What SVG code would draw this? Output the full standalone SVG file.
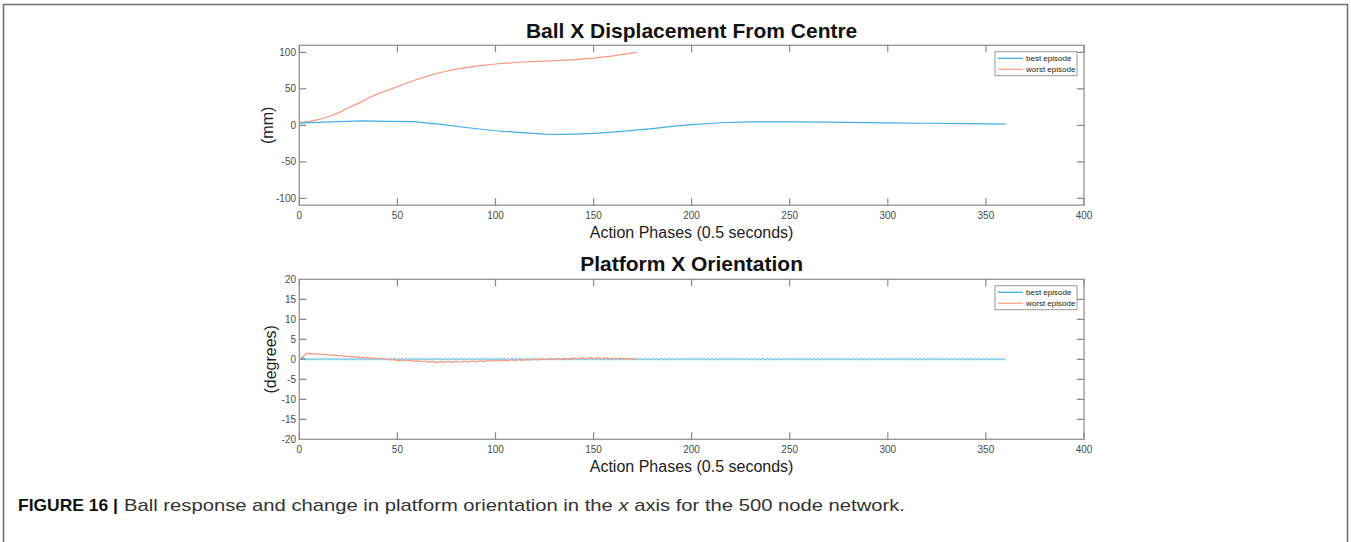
<svg xmlns="http://www.w3.org/2000/svg" width="1351" height="542" viewBox="0 0 1351 542">
  <style>
    text { font-family: "Liberation Sans", Arial, sans-serif; }
    .frame { fill: none; stroke: #6e6e6e; stroke-width: 1.5; }
    .axis { fill: none; stroke: #8a8a8a; stroke-width: 1.2; }
    .tick { fill: none; stroke: #8a8a8a; stroke-width: 1.2; }
    .tl { font-size: 10px; fill: #4a4a4a; }
    .tlx { text-anchor: middle; }
    .tly { text-anchor: end; }
    .title { font-size: 21px; font-weight: bold; fill: #111; text-anchor: middle; }
    .xl { font-size: 16px; fill: #222; text-anchor: middle; }
    .yl { font-size: 16px; fill: #222; text-anchor: middle; }
    .best { fill: none; stroke: #45ade2; stroke-width: 1.2; stroke-linejoin: round; vector-effect: non-scaling-stroke; }
    .worst { fill: none; stroke: #f89880; stroke-width: 1.2; stroke-linejoin: round; vector-effect: non-scaling-stroke; }
    .legbox { fill: #fff; stroke: #9a9a9a; stroke-width: 1; }
    .legtxt { font-size: 8px; fill: #222; }
    .cap { font-size: 17px; fill: #333; }
    .capb { font-size: 17px; font-weight: bold; fill: #111; }
  </style>
  <defs>
    <!-- small steady oscillation of the best-episode platform angle -->
    <pattern id="zz" patternUnits="userSpaceOnUse" x="303" y="357.2" width="3.9234" height="4">
      <path d="M-0.98,2.7 L0.98,1.3 L2.94,2.7 L4.9,1.3" fill="none" stroke="#45ade2" stroke-width="1"/>
    </pattern>
  </defs>

  <rect width="1351" height="542" fill="#fff"/>
  <path class="frame" d="M3.5,542 V4.5 H1347.5 V542"/>

  <!-- Upper plot: ball displacement -->
  <g id="plot-displacement">
    <text class="title" x="691.6" y="37.5">Ball X Displacement From Centre</text>
    <rect class="axis" x="299.3" y="45.3" width="784.7" height="159.9"/>
    <g class="tick">
      <path d="M299.3,45.3v7 M397.4,45.3v7 M495.5,45.3v7 M593.6,45.3v7 M691.6,45.3v7 M789.7,45.3v7 M887.8,45.3v7 M985.9,45.3v7 M1084,45.3v7"/>
      <path d="M299.3,205.2v-7 M397.4,205.2v-7 M495.5,205.2v-7 M593.6,205.2v-7 M691.6,205.2v-7 M789.7,205.2v-7 M887.8,205.2v-7 M985.9,205.2v-7 M1084,205.2v-7"/>
      <path d="M299.3,52.3h7 M299.3,88.8h7 M299.3,125.3h7 M299.3,161.8h7 M299.3,198.3h7"/>
      <path d="M1084,52.3h-7 M1084,88.8h-7 M1084,125.3h-7 M1084,161.8h-7 M1084,198.3h-7"/>
    </g>
    <g class="tl tly">
      <text x="296" y="55.8">100</text>
      <text x="296" y="92.3">50</text>
      <text x="296" y="128.8">0</text>
      <text x="296" y="165.3">-50</text>
      <text x="296" y="201.8">-100</text>
    </g>
    <g class="tl tlx">
      <text x="299.3" y="218.5">0</text>
      <text x="397.4" y="218.5">50</text>
      <text x="495.5" y="218.5">100</text>
      <text x="593.6" y="218.5">150</text>
      <text x="691.6" y="218.5">200</text>
      <text x="789.7" y="218.5">250</text>
      <text x="887.8" y="218.5">300</text>
      <text x="985.9" y="218.5">350</text>
      <text x="1084" y="218.5">400</text>
    </g>
    <text class="xl" x="691.6" y="238">Action Phases (0.5 seconds)</text>
    <text class="yl" transform="translate(273,125.3) rotate(-90)">(mm)</text>
    <g transform="translate(299.3,125.3) scale(1.9617,-0.73)">
      <polyline class="worst" points="0,4 5,5 10,8 15,12 20,17 25,24 30,30 35,37 40,43 45,48 50,53 55,58 60,63 65,67 70,71 75,74 80,77 85,79 90,81 100,84 110,86 125,88 140,90 150,92 160,95 172,100"/>
      <polyline class="best" points="0,3 10,4 20,5 32,6 45,5.5 58,5 70,2 85,-3 100,-7.5 115,-10.5 125,-12 136,-12.4 150,-11 161,-9 170,-7 180,-4.5 190,-1.5 200,1 215,3.5 230,4.6 250,4.8 270,4.3 298,3.2 320,2.8 340,2.2 360,1.7"/>
    </g>
    <g id="legend-displacement">
      <rect class="legbox" x="995" y="51.7" width="82" height="24"/>
      <line x1="998" y1="58.3" x2="1023" y2="58.3" stroke="#45ade2" stroke-width="1.3"/>
      <line x1="998" y1="69.3" x2="1023" y2="69.3" stroke="#f8a890" stroke-width="1.3"/>
      <text class="legtxt" x="1026" y="61">best episode</text>
      <text class="legtxt" x="1026" y="72">worst episode</text>
    </g>
  </g>

  <!-- Lower plot: platform orientation -->
  <g id="plot-orientation">
    <text class="title" x="691.6" y="270.5">Platform X Orientation</text>
    <rect class="axis" x="299.3" y="279.3" width="784.7" height="160"/>
    <g class="tick">
      <path d="M299.3,279.3v7 M397.4,279.3v7 M495.5,279.3v7 M593.6,279.3v7 M691.6,279.3v7 M789.7,279.3v7 M887.8,279.3v7 M985.9,279.3v7 M1084,279.3v7"/>
      <path d="M299.3,439.3v-7 M397.4,439.3v-7 M495.5,439.3v-7 M593.6,439.3v-7 M691.6,439.3v-7 M789.7,439.3v-7 M887.8,439.3v-7 M985.9,439.3v-7 M1084,439.3v-7"/>
      <path d="M299.3,299.3h7 M299.3,319.3h7 M299.3,339.3h7 M299.3,359.3h7 M299.3,379.3h7 M299.3,399.3h7 M299.3,419.3h7"/>
      <path d="M1084,299.3h-7 M1084,319.3h-7 M1084,339.3h-7 M1084,359.3h-7 M1084,379.3h-7 M1084,399.3h-7 M1084,419.3h-7"/>
    </g>
    <g class="tl tly">
      <text x="296" y="282.8">20</text>
      <text x="296" y="302.8">15</text>
      <text x="296" y="322.8">10</text>
      <text x="296" y="342.8">5</text>
      <text x="296" y="362.8">0</text>
      <text x="296" y="382.8">-5</text>
      <text x="296" y="402.8">-10</text>
      <text x="296" y="422.8">-15</text>
      <text x="296" y="442.8">-20</text>
    </g>
    <g class="tl tlx">
      <text x="299.3" y="452.8">0</text>
      <text x="397.4" y="452.8">50</text>
      <text x="495.5" y="452.8">100</text>
      <text x="593.6" y="452.8">150</text>
      <text x="691.6" y="452.8">200</text>
      <text x="789.7" y="452.8">250</text>
      <text x="887.8" y="452.8">300</text>
      <text x="985.9" y="452.8">350</text>
      <text x="1084" y="452.8">400</text>
    </g>
    <text class="xl" x="691.6" y="472">Action Phases (0.5 seconds)</text>
    <text class="yl" transform="translate(276,359.3) rotate(-90)">(degrees)</text>
    <rect x="303" y="357.2" width="702.5" height="4" fill="url(#zz)"/>
    <g transform="translate(299.3,359.3) scale(1.9617,-4)">
      <polyline class="best" points="0.5,0.1 1.5,0.4 2.5,0.3"/>
      <polyline class="worst" points="0,0 4,1.5 10,1.28 20,0.91 30,0.54 40,0.17 44,0.14 46,-0.17 48,-0.01 50,-0.32 52,-0.13 54,-0.42 56,-0.23 58,-0.52 60,-0.33 62,-0.62 64,-0.43 66,-0.72 68,-0.53 70,-0.82 72,-0.57 74,-0.79 76,-0.54 78,-0.77 80,-0.51 82,-0.74 84,-0.49 86,-0.70 88,-0.43 90,-0.64 92,-0.36 94,-0.57 96,-0.30 98,-0.50 100,-0.23 102,-0.44 104,-0.17 106,-0.39 108,-0.12 110,-0.33 112,-0.06 114,-0.27 116,-0.01 118,-0.22 120,0.05 122,-0.16 124,0.11 126,-0.11 128,0.16 130,-0.06 132,0.20 134,-0.01 136,0.25 138,0.04 140,0.30 142,0.08 144,0.35 146,0.13 148,0.40 150,0.18 152,0.40 154,0.14 156,0.37 158,0.11 160,0.33 162,0.07 164,0.29 166,0.03 168,0.26 170,0.00 172,0.10"/>
    </g>
    <g id="legend-orientation">
      <rect class="legbox" x="995" y="285.7" width="82" height="24"/>
      <line x1="998" y1="292.3" x2="1023" y2="292.3" stroke="#45ade2" stroke-width="1.3"/>
      <line x1="998" y1="303.3" x2="1023" y2="303.3" stroke="#f8a890" stroke-width="1.3"/>
      <text class="legtxt" x="1026" y="295">best episode</text>
      <text class="legtxt" x="1026" y="306">worst episode</text>
    </g>
  </g>

  <!-- Caption -->
  <text class="capb" x="18" y="511" textLength="100" lengthAdjust="spacingAndGlyphs">FIGURE 16 |</text>
  <text class="cap" x="124" y="511" textLength="781" lengthAdjust="spacingAndGlyphs">Ball response and change in platform orientation in the <tspan font-style="italic">x</tspan> axis for the 500 node network.</text>
</svg>
